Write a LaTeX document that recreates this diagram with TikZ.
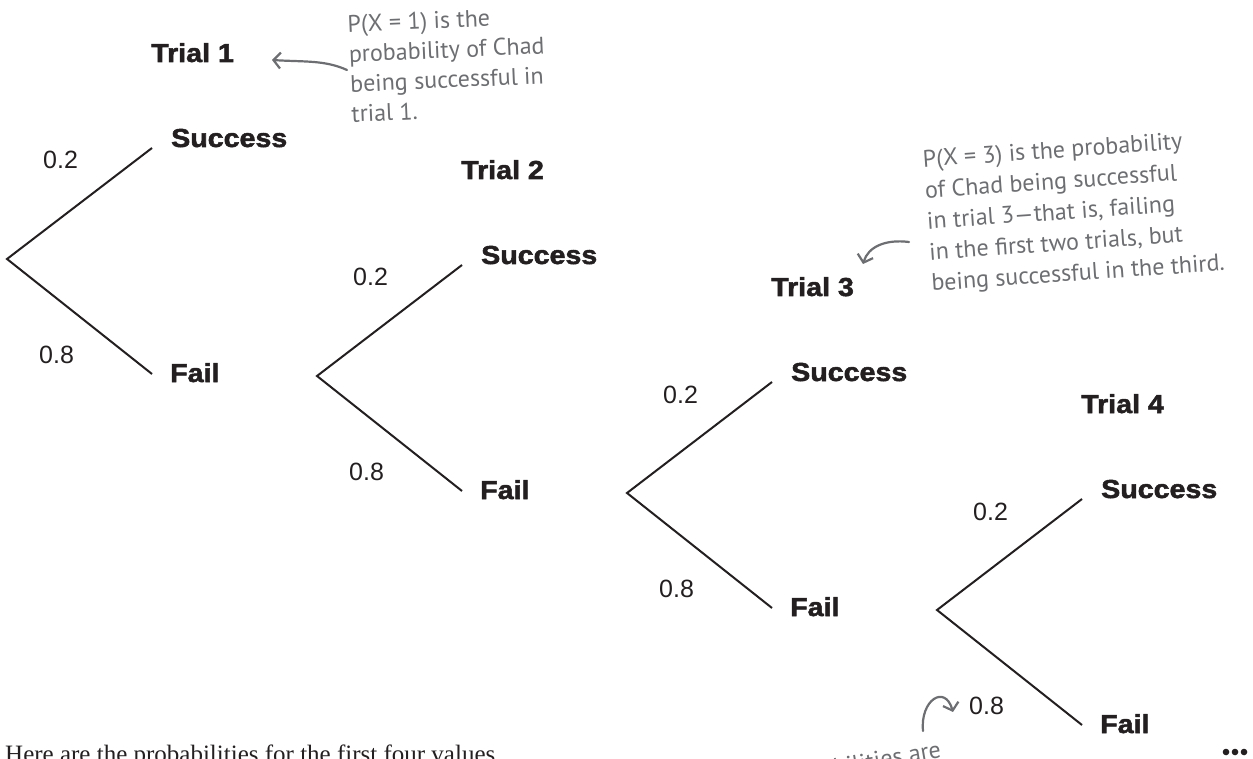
\documentclass[tikz,border=0pt]{standalone}
\usepackage{fontspec}
\usetikzlibrary{arrows.meta}
\newfontfamily\heavyfont{Liberation Sans}[FakeStretch=1.1, BoldFeatures={FakeBold=2}]
\newfontfamily\numfont{Liberation Sans}
\newfontfamily\handfont{PT Sans}
\newfontfamily\bodyfont{Liberation Serif}
\definecolor{inkc}{HTML}{231F20}
\definecolor{notegray}{HTML}{6D6E71}
\begin{document}
\begin{tikzpicture}[x=1pt,y=-1pt,
  branch/.style={draw=inkc, line width=2pt},
  outcome/.style={font=\heavyfont\bfseries\fontsize{26}{26}\selectfont, text=inkc, inner sep=0pt, anchor=base west},
  prob/.style={font=\numfont\fontsize{25}{25}\selectfont, text=inkc, inner sep=0pt, anchor=base west},
  note/.style={font=\handfont\fontsize{24}{30}\selectfont, text=notegray, align=left, inner sep=0pt, anchor=north west},
  notearrow/.style={draw=notegray, line width=2.2pt, line cap=round, -{Straight Barb[length=7pt,width=16pt,line width=2.2pt]}}]
\useasboundingbox (0,0) rectangle (1253,759);
\clip (0,0) rectangle (1253,759);

\foreach \i/\x/\y in {1/7/259, 2/317/376, 3/627/493, 4/937/610}{
  \coordinate (r\i) at (\x,\y);
  \coordinate (u\i) at (\x+145,\y-111);
  \coordinate (d\i) at (\x+145,\y+115);
  \node[outcome] (s\i) at (\x+164,\y-112) {Success};
  \node[outcome] (f\i) at (\x+163,\y+123) {Fail};
  \node[outcome] (t\i) at (\x+144,\y-197) {Trial \i};
  \node[prob] (p\i) at (\x+36,\y-90) {0.2};
  \node[prob] (q\i) at (\x+32,\y+104) {0.8};
  \draw[branch] (u\i) -- (r\i) -- (d\i);
}

% annotation 1
\node[note, rotate=2.5] (n1) at (347,15) {P(X = 1) is the\\probability of Chad\\being successful in\\trial 1.};
\coordinate (a1tail) at (347,70);
\coordinate (a1head) at (272,60);
\draw[notearrow] (a1tail) .. controls (325,60) and (305,62) .. (a1head);

% annotation 2
\node[note, font=\handfont\fontsize{24}{31}\selectfont, rotate=4] (n2) at (922,150) {P(X = 3) is the probability\\of Chad being successful\\in trial 3—that is, failing\\in the first two trials, but\\being successful in the third.};
\coordinate (a2tail) at (909,242);
\coordinate (a2head) at (863,264);
\draw[notearrow] (a2tail) .. controls (885,239) and (868,247) .. (a2head);

% annotation 3 (cut by the bottom edge)
\node[font=\handfont\fontsize{24}{24}\selectfont, text=notegray, inner sep=0pt, anchor=base east, rotate=10] (n3) at (942,757) {probabilities are};
\coordinate (a3tail) at (923,731);
\coordinate (a3head) at (953,712);
\draw[notearrow] (a3tail) .. controls (920,700) and (945,684) .. (a3head);

% caption line cut by the bottom edge
\node[font=\bodyfont\fontsize{25}{25}\selectfont, text=inkc, inner sep=0pt, anchor=base west] (cap) at (5,762) {Here are the probabilities for the first four values};

% continuation dots
\fill[inkc] (1226,752) circle (3.3) (1235,752) circle (3.3) (1244,752) circle (3.3);
\end{tikzpicture}
\end{document}
